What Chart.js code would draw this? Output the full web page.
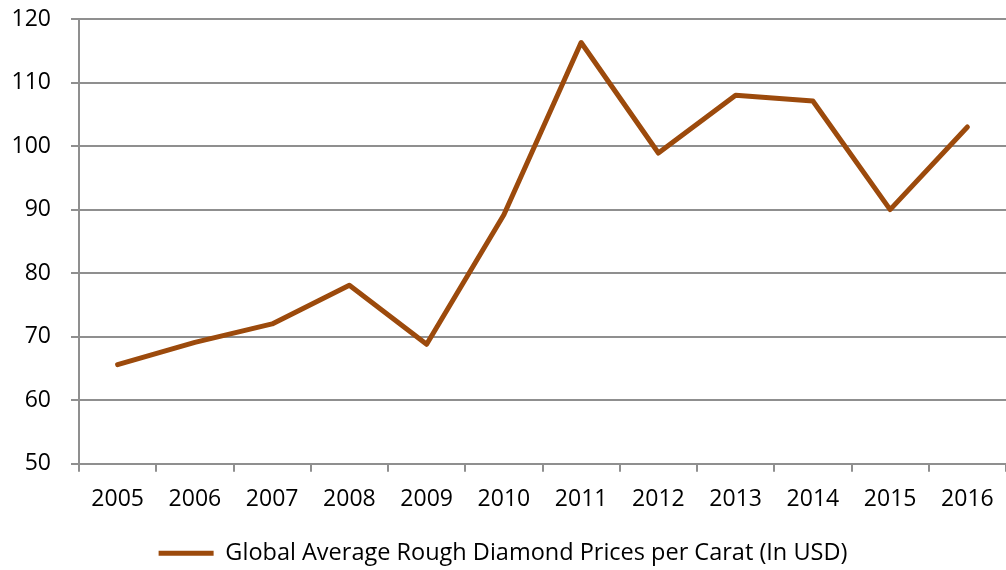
<!DOCTYPE html>
<html lang="en">
<head>
  <meta charset="UTF-8">
  <title>Global Average Rough Diamond Prices per Carat</title>
  <script src="https://cdn.jsdelivr.net/npm/chart.js"></script>
  <style>
    html, body {
      margin: 0;
      padding: 0;
      background: #fff;
    }
    .wrap {
      width: 1006px;
      height: 570px;
    }
  </style>
</head>
<body>
  <div class="wrap">
    <canvas id="line-chart" width="1006" height="570"></canvas>
  </div>

  <script>
    const years = ['2005', '2006', '2007', '2008', '2009', '2010', '2011', '2012', '2013', '2014', '2015', '2016'];
    const prices = [65.6, 69.1, 72, 78.1, 68.8, 89.2, 116.3, 98.9, 108, 107.1, 90, 103];
    const seriesName = 'Global Average Rough Diamond Prices per Carat (In USD)';

    const lineColor = '#9C4A0C';
    const gridColor = '#8f8f8f';

    Chart.defaults.font.family = '"Open Sans", sans-serif';
    Chart.defaults.color = '#000';

    new Chart(document.getElementById('line-chart'), {
      type: 'line',
      data: {
        labels: years,
        datasets: [{
          label: seriesName,
          data: prices,
          borderColor: lineColor,
          backgroundColor: lineColor,
          borderWidth: 5,
          borderCapStyle: 'round',
          borderJoinStyle: 'round',
          pointRadius: 0,
          pointHoverRadius: 0,
          tension: 0,
          fill: false
        }]
      },
      options: {
        responsive: false,
        animation: false,
        // legend sits a little lower than Chart.js would put it
        layout: { padding: { top: 19, right: 0, left: 0, bottom: -5 } },
        plugins: {
          tooltip: { enabled: false },
          legend: {
            position: 'bottom',
            labels: {
              usePointStyle: true,
              pointStyle: 'line',
              pointStyleWidth: 55,
              font: { size: 23.5 },
              padding: 2
            }
          }
        },
        scales: {
          x: {
            offset: true,
            grid: {
              offset: true,
              drawOnChartArea: false,
              tickLength: 8,
              color: gridColor,
              lineWidth: 2
            },
            border: { color: gridColor, width: 2 },
            ticks: { font: { size: 23 }, padding: 14, maxRotation: 0 },
            afterFit: s => {
              s.height = 75.8;
              s.paddingLeft = 0;
              s.paddingRight = 0;
            }
          },
          y: {
            min: 50,
            max: 120,
            ticks: { stepSize: 10, font: { size: 23 }, padding: 20 },
            grid: { color: gridColor, lineWidth: 2, tickLength: 8 },
            border: { color: gridColor, width: 2 },
            afterFit: s => {
              s.width = 79;
              s.paddingTop = 0;
              s.paddingBottom = 0;
            }
          }
        }
      }
    });
  </script>
</body>
</html>
